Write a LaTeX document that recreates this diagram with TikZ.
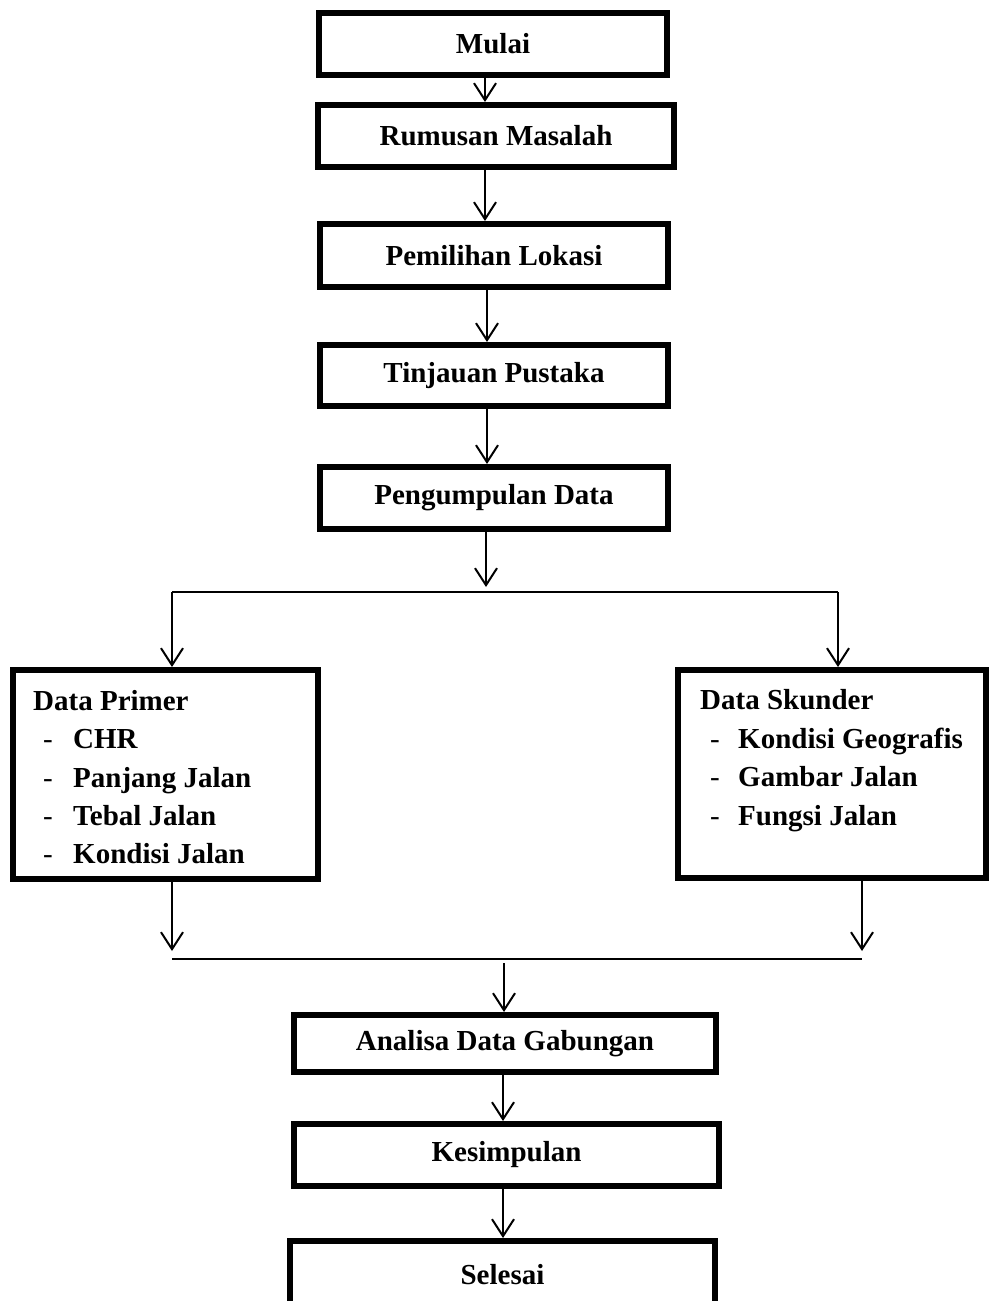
\documentclass[tikz,border=0pt]{standalone}
\usepackage{fontspec}
\setmainfont{Liberation Serif}
\usetikzlibrary{arrows.meta,calc}
\begin{document}
\begin{tikzpicture}[x=1pt,y=-1pt,
  bigfont/.style={font=\fontsize{29}{35}\selectfont\bfseries},
  box/.style={draw, line width=6pt, inner sep=0pt, bigfont},
  txt/.style={inner sep=0pt, anchor=base west, bigfont},
  dashtxt/.style={inner sep=0pt, anchor=base west, font=\fontsize{29}{35}\selectfont},
  conn/.style={line width=2pt},
  arr/.style={conn, -{Straight Barb[length=17pt,width=22pt]}}]
\useasboundingbox (0,0) rectangle (989,1301);
\clip (0,0) rectangle (989,1301);
\fill[white] (0,0) rectangle (989,1301);

\node[box, minimum width=348pt, minimum height=62pt] (mulai) at (493,44) {Mulai};
\node[box, minimum width=356pt, minimum height=62pt] (rumusan) at (496,136) {Rumusan Masalah};
\node[box, minimum width=348pt, minimum height=63pt] (pemilihan) at (494,255.5) {Pemilihan Lokasi};
\node[box, minimum width=348pt, minimum height=61pt] (tinjauan) at (494,375.5) {Tinjauan Pustaka};
\node[box, minimum width=348pt, minimum height=62pt] (pengumpulan) at (494,498) {Pengumpulan Data};

\node[box, minimum width=305pt, minimum height=209pt] (primer) at (165.5,774.5) {};
\node[box, minimum width=308pt, minimum height=208pt] (skunder) at (832,774) {};

\node[txt] (p0) at (33,710) {Data Primer};
\node[dashtxt] (pd1) at (43,748) {-};
\node[txt] (p1) at (73,748) {CHR};
\node[dashtxt] (pd2) at (43,787) {-};
\node[txt] (p2) at (73,787) {Panjang Jalan};
\node[dashtxt] (pd3) at (43,825) {-};
\node[txt] (p3) at (73,825) {Tebal Jalan};
\node[dashtxt] (pd4) at (43,863) {-};
\node[txt] (p4) at (73,863) {Kondisi Jalan};

\node[txt] (s0) at (700,709) {Data Skunder};
\node[dashtxt] (sd1) at (710,748) {-};
\node[txt] (s1) at (738,748) {Kondisi Geografis};
\node[dashtxt] (sd2) at (710,786) {-};
\node[txt] (s2) at (738,786) {Gambar Jalan};
\node[dashtxt] (sd3) at (710,825) {-};
\node[txt] (s3) at (738,825) {Fungsi Jalan};

\node[box, minimum width=422pt, minimum height=57pt] (analisa) at (505,1043.5) {Analisa Data Gabungan};
\node[box, minimum width=425pt, minimum height=62pt] (kesimpulan) at (506.5,1155) {Kesimpulan};
\node[box, minimum width=425pt, minimum height=68pt] (selesai) at (502.5,1275) {Selesai};

% column coordinates
\coordinate (c1) at (485,0);
\coordinate (c2) at (487,0);
\coordinate (bc) at (486,587);
\coordinate (bl) at (172,592);
\coordinate (br) at (838,592);
\coordinate (ml) at (172,959);
\coordinate (mr) at (862,959);
\coordinate (mc) at (504,963);
\coordinate (c3) at (503,0);

\draw[arr] (mulai.south -| c1) -- (rumusan.north -| c1);
\draw[arr] (rumusan.south -| c1) -- (pemilihan.north -| c1);
\draw[arr] (pemilihan.south -| c2) -- (tinjauan.north -| c2);
\draw[arr] (tinjauan.south -| c2) -- (pengumpulan.north -| c2);
\draw[arr] (pengumpulan.south -| bc) -- (bc);
\draw[conn] (bl) -- (br);
\draw[arr] (bl) -- (primer.north -| bl);
\draw[arr] (br) -- (skunder.north -| br);
\draw[arr] (primer.south -| ml) -- ($(ml)+(0,-8)$);
\draw[arr] (skunder.south -| mr) -- ($(mr)+(0,-8)$);
\draw[conn] (ml) -- (mr);
\draw[arr] (mc) -- (analisa.north -| mc);
\draw[arr] (analisa.south -| c3) -- (kesimpulan.north -| c3);
\draw[arr] (kesimpulan.south -| c3) -- (selesai.north -| c3);
\end{tikzpicture}
\end{document}
